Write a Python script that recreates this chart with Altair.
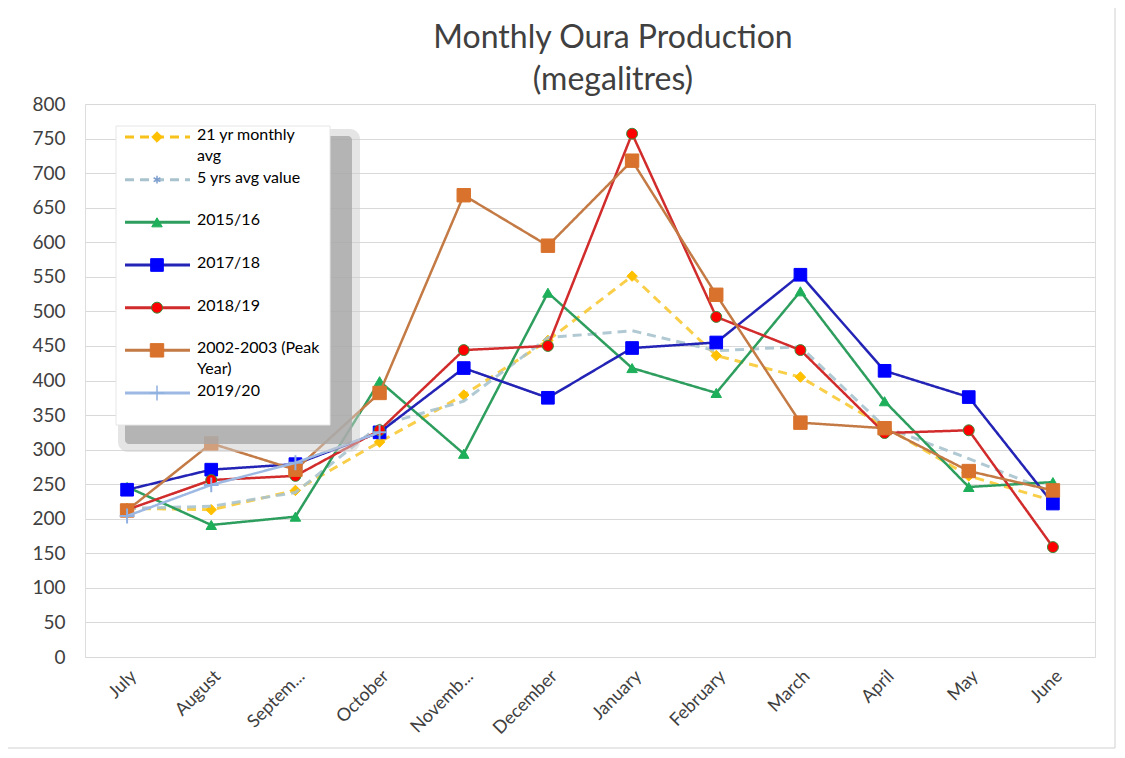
import altair as alt
import pandas as pd

months = ["July", "August", "September", "October", "November", "December",
          "January", "February", "March", "April", "May", "June"]
tick_labels = ["July", "August", "Septem...", "October", "Novemb...", "December",
               "January", "February", "March", "April", "May", "June"]
y_ticks = list(range(0, 801, 50))

series_names = ["21 yr monthly avg", "5 yrs avg value", "2015/16", "2017/18",
                "2018/19", "2002-2003 (Peak Year)", "2019/20"]
legend_labels = ["21 yr monthly\navg", "5 yrs avg value", "2015/16", "2017/18",
                 "2018/19", "2002-2003 (Peak\nYear)", "2019/20"]

avg21 = [215, 213, 241, 311, 379, 458, 551, 436, 405, 333, 262, 226]
avg5 = [215, 218, 238, 335, 370, 462, 472, 443, 449, 333, 287, 238]
s1516 = [246, 191, 203, 399, 294, 527, 418, 382, 529, 370, 246, 253]
s1718 = [242, 271, 279, 325, 418, 375, 447, 455, 553, 414, 376, 222]
s1819 = [213, 256, 262, 328, 444, 450, 757, 492, 444, 324, 328, 159]
s0203 = [212, 309, 271, 382, 668, 595, 718, 524, 339, 331, 269, 241]
s1920 = [204, 249, 281, 325, None, None, None, None, None, None, None, None]

series_values = [avg21, avg5, s1516, s1718, s1819, s0203, s1920]

FONT = "Lato"
TXT = "#404040"

styles = {
    "21 yr monthly avg": dict(line="#F7C21B", dash=[9, 6], width=3, opacity=0.8,
                              shape="diamond", fill="#FFC000", mstroke="#FFC000", size=110),
    "5 yrs avg value": dict(line="#A9C3CE", dash=[9, 6], width=3, opacity=0.9,
                            shape=None, fill="#7F9FCF", mstroke="#7F9FCF", size=60),
    "2015/16": dict(line="#2E9E5E", dash=[1, 0], width=2.5, opacity=1,
                    shape="triangle-up", fill="#1DAF5A", mstroke="#1DAF5A", size=110),
    "2017/18": dict(line="#2323B5", dash=[1, 0], width=2.5, opacity=1,
                    shape="square", fill="#0000FF", mstroke="#0000FF", size=160),
    "2018/19": dict(line="#D12B2B", dash=[1, 0], width=2.5, opacity=1,
                    shape="circle", fill="#FF0000", mstroke="#3A8A3A", size=120),
    "2002-2003 (Peak Year)": dict(line="#C47A44", dash=[1, 0], width=2.5, opacity=1,
                                  shape="square", fill="#D8722C", mstroke="#D8722C", size=180),
    "2019/20": dict(line="#9DB9E3", dash=[1, 0], width=2.5, opacity=1,
                    shape="M0,-1L0,1M-1,0L1,0", fill="#8FB0E0", mstroke="#8FB0E0", size=220),
}

label_expr = "datum.label"
for m, t in zip(months, tick_labels):
    if m != t:
        label_expr = f"datum.label == '{m}' ? '{t}' : (" + label_expr + ")"

x_enc = alt.X("month:N", sort=months, title=None,
              scale=alt.Scale(domain=months),
              axis=alt.Axis(labelAngle=-45, labelFont=FONT, labelFontSize=18,
                            labelColor=TXT, ticks=False, domain=False,
                            labelPadding=10, labelExpr=label_expr, grid=False,
                            labelLimit=200))
y_enc = alt.Y("value:Q", title=None,
              scale=alt.Scale(domain=[0, 800], nice=False, zero=True),
              axis=alt.Axis(values=y_ticks, labelFont=FONT, labelFontSize=19,
                            labelColor=TXT, ticks=False, domain=False, labelPadding=20,
                            labelOverlap=False, grid=True, gridColor="#d9d9d9",
                            gridWidth=1.2))

layers = []
# chart-area border
layers.append(alt.Chart(pd.DataFrame({"a": [0]})).mark_rect(
    fillOpacity=0, stroke="#d0d0d0", strokeWidth=1).encode(
    x=alt.value(-82), x2=alt.value(1030), y=alt.value(-100), y2=alt.value(644)))

for name, vals in zip(series_names, series_values):
    st = styles[name]
    df = pd.DataFrame({"month": months, "value": vals}).dropna()
    base = alt.Chart(df)
    ln = base.mark_line(stroke=st["line"], strokeWidth=st["width"],
                        strokeDash=st["dash"], opacity=st["opacity"]).encode(
        x=x_enc, y=y_enc)
    layers.append(ln)
    if st["shape"] is not None:
        is_path = st["shape"].startswith("M")
        pt = base.mark_point(shape=st["shape"], size=st["size"], filled=not is_path,
                             fill=st["fill"], stroke=st["mstroke"],
                             strokeWidth=2 if is_path else 1, opacity=1).encode(
            x=x_enc, y=y_enc)
        layers.append(pt)

main = alt.layer(*layers)

# ---- legend box (hand-built, Excel style) ----
box_df = pd.DataFrame({"a": [0]})
shadow_outer = alt.Chart(box_df).mark_rect(fill="#cccccc", opacity=0.5, cornerRadius=10).encode(
    x=alt.value(33), x2=alt.value(275), y=alt.value(25), y2=alt.value(348))
shadow_inner = alt.Chart(box_df).mark_rect(fill="#a8a8a8", opacity=0.8, cornerRadius=4).encode(
    x=alt.value(40), x2=alt.value(267), y=alt.value(32), y2=alt.value(340))
box = alt.Chart(box_df).mark_rect(fill="white", stroke="#e6e6e6", strokeWidth=1).encode(
    x=alt.value(31), x2=alt.value(245), y=alt.value(22), y2=alt.value(321))

leg_df = pd.DataFrame({"series": series_names, "label": legend_labels,
                       "row": list(range(len(series_names)))})
row_scale = alt.Scale(domain=[0, 6], range=[33, 289])
leg_y = alt.Y("row:Q", scale=row_scale, axis=None)

leg_layers = [shadow_outer, shadow_inner, box]
for i, name in enumerate(series_names):
    st = styles[name]
    one = alt.Chart(leg_df[leg_df["series"] == name])
    leg_layers.append(one.mark_rule(stroke=st["line"], strokeWidth=3,
                                    strokeDash=st["dash"]).encode(
        x=alt.value(40), x2=alt.value(105), y=leg_y))
    shape = st["shape"] if st["shape"] is not None else \
        "M0,-1L0,1M-0.87,-0.5L0.87,0.5M-0.87,0.5L0.87,-0.5"
    is_path = shape.startswith("M")
    leg_layers.append(one.mark_point(shape=shape, size=st["size"], filled=not is_path,
                                     fill=st["fill"], stroke=st["mstroke"],
                                     strokeWidth=1.5 if is_path else 1, opacity=1).encode(
        x=alt.value(72), y=leg_y))

leg_text = alt.Chart(leg_df).mark_text(align="left", baseline="top", dy=-10,
                                       lineBreak="\n", lineHeight=21, font=FONT,
                                       fontSize=16, color="#000000").encode(
    x=alt.value(112), y=leg_y, text="label:N")
leg_layers.append(leg_text)
legend = alt.layer(*leg_layers)

title_df = pd.DataFrame({"t": ["Monthly Oura Production", "(megalitres)"], "r": [0, 1]})
title = alt.Chart(title_df).mark_text(font=FONT, fontSize=32, color=TXT,
                                      align="center", baseline="middle").encode(
    x=alt.value(528),
    y=alt.Y("r:Q", scale=alt.Scale(domain=[0, 1], range=[-66, -24]), axis=None),
    text="t:N")

chart = alt.layer(main, legend, title).resolve_scale(y="independent").properties(
    width=1010, height=553,
    padding={"left": 77, "top": 96, "right": 22, "bottom": 93},
    autosize=alt.AutoSizeParams(type="none"),
).configure_view(stroke=None).configure(background="white")

chart.save("out.html", embed_options={"renderer": "svg", "actions": False})
